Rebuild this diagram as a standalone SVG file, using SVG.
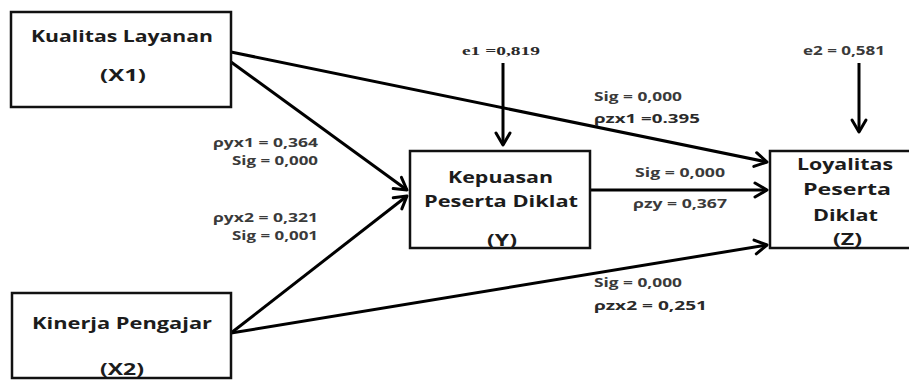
<svg xmlns="http://www.w3.org/2000/svg" width="909" height="380" viewBox="0 0 909 380">
<defs>
<style>
.box{fill:#fff;stroke:#111;stroke-width:2.5}
.nl{font-family:"Open Sans","Liberation Sans",sans-serif;font-weight:bold;font-size:16px;fill:#1c1c1c}
.el{font-family:"Open Sans","Liberation Sans",sans-serif;font-weight:bold;font-size:12px;fill:#3a3a3a}
.el2{font-family:"Open Sans","Liberation Sans",sans-serif;font-weight:bold;font-size:13px;fill:#2a2a2a}
.es{font-family:"Liberation Serif",serif;font-weight:bold;font-size:13px;fill:#2a2a2a}
.ln{fill:none;stroke:#000;stroke-width:3;marker-end:url(#ah)}
</style>
<marker id="ah" markerUnits="userSpaceOnUse" markerWidth="24" markerHeight="24" viewBox="-16 -12 20 24" refX="0" refY="0" orient="auto" overflow="visible">
<path d="M-12,-7 L0,0 L-12,7" fill="none" stroke="#000" stroke-width="3" stroke-linejoin="round" stroke-linecap="round"/>
</marker>
</defs>
<rect width="909" height="380" fill="#fff"/>

<g id="connectors">
<line class="ln" x1="231" y1="52" x2="767" y2="162"/>
<line class="ln" x1="231" y1="62" x2="407" y2="190"/>
<line class="ln" x1="231" y1="333" x2="407" y2="196"/>
<line class="ln" x1="231" y1="333" x2="767" y2="245"/>
<line class="ln" x1="590" y1="190" x2="767" y2="190"/>
<line class="ln" x1="503" y1="63" x2="503" y2="145"/>
<line class="ln" x1="859" y1="63" x2="859" y2="132"/>
</g>

<g id="node-x1">
<rect class="box" x="11" y="12" width="220" height="95"/>
<text class="nl" x="31" y="42" textLength="182" lengthAdjust="spacingAndGlyphs">Kualitas Layanan</text>
<text class="nl" x="100" y="81" textLength="46" lengthAdjust="spacingAndGlyphs">(X1)</text>
</g>

<g id="node-x2">
<rect class="box" x="12" y="293" width="219" height="85"/>
<text class="nl" x="32" y="329" textLength="180" lengthAdjust="spacingAndGlyphs">Kinerja Pengajar</text>
<text class="nl" x="100" y="375" textLength="44" lengthAdjust="spacingAndGlyphs">(X2)</text>
</g>

<g id="node-y">
<rect class="box" x="410" y="151" width="180" height="97"/>
<text class="nl" x="448" y="183" textLength="105" lengthAdjust="spacingAndGlyphs">Kepuasan</text>
<text class="nl" x="424" y="207" textLength="154" lengthAdjust="spacingAndGlyphs">Peserta Diklat</text>
<text class="nl" x="487" y="246" textLength="30" lengthAdjust="spacingAndGlyphs">(Y)</text>
</g>

<g id="node-z">
<rect class="box" x="770" y="151" width="150" height="97"/>
<text class="nl" x="797" y="170" textLength="96" lengthAdjust="spacingAndGlyphs">Loyalitas</text>
<text class="nl" x="803" y="195" textLength="88" lengthAdjust="spacingAndGlyphs">Peserta</text>
<text class="nl" x="813" y="221" textLength="65" lengthAdjust="spacingAndGlyphs">Diklat</text>
<text class="nl" x="833" y="245" textLength="29" lengthAdjust="spacingAndGlyphs">(Z)</text>
</g>

<g id="labels">
<text class="el" x="213" y="147" textLength="105" lengthAdjust="spacingAndGlyphs">ρyx1 = 0,364</text>
<text class="el" x="232" y="165" textLength="86" lengthAdjust="spacingAndGlyphs">Sig = 0,000</text>
<text class="el" x="213" y="222" textLength="105" lengthAdjust="spacingAndGlyphs">ρyx2 = 0,321</text>
<text class="el" x="232" y="240" textLength="86" lengthAdjust="spacingAndGlyphs">Sig = 0,001</text>
<text class="es" x="462" y="55" textLength="78" lengthAdjust="spacingAndGlyphs">e1 =0,819</text>
<text class="el" x="803" y="55" textLength="82" lengthAdjust="spacingAndGlyphs">e2 = 0,581</text>
<text class="el" x="594" y="101" textLength="88" lengthAdjust="spacingAndGlyphs">Sig = 0,000</text>
<text class="el2" x="594" y="123" textLength="106" lengthAdjust="spacingAndGlyphs">ρzx1 =0.395</text>
<text class="el" x="635" y="177" textLength="90" lengthAdjust="spacingAndGlyphs">Sig = 0,000</text>
<text class="el" x="633" y="208" textLength="94" lengthAdjust="spacingAndGlyphs">ρzy = 0,367</text>
<text class="el" x="594" y="287" textLength="88" lengthAdjust="spacingAndGlyphs">Sig = 0,000</text>
<text class="el2" x="594" y="310" textLength="113" lengthAdjust="spacingAndGlyphs">ρzx2 = 0,251</text>
</g>
</svg>
